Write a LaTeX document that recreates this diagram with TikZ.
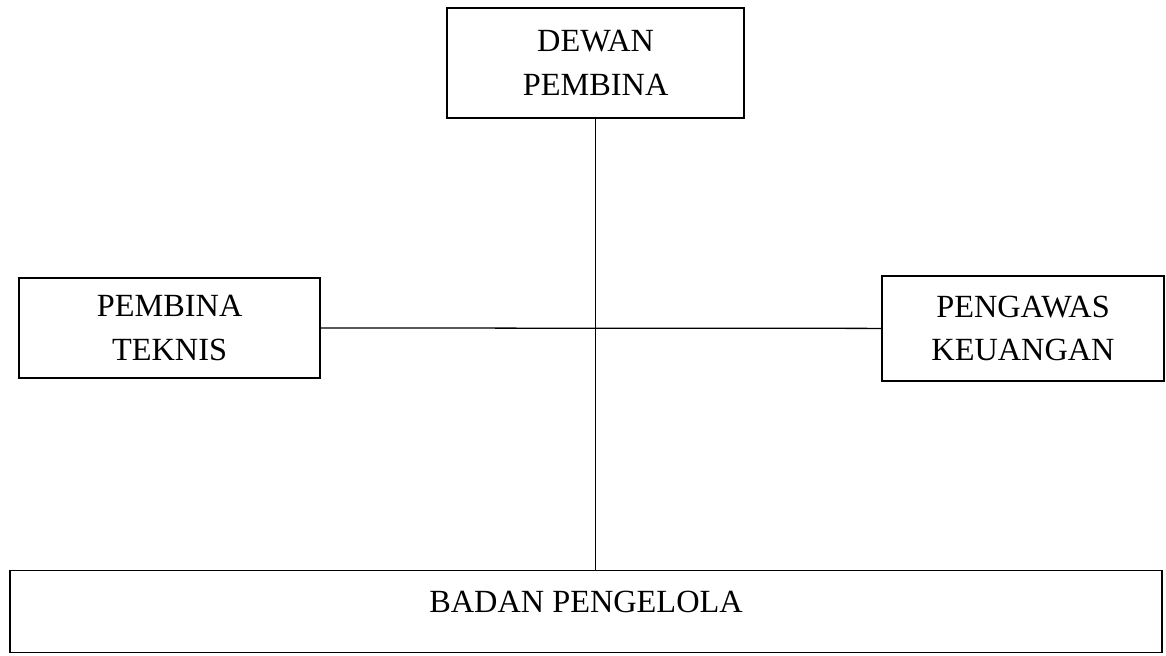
\documentclass[tikz,border=0pt]{standalone}
\usepackage{fontspec}
\setmainfont{Liberation Serif}

\begin{document}
\begin{tikzpicture}[
    unit/.style={draw, line width=0.9pt, align=center, inner sep=0pt,
        font=\fontsize{23}{31}\selectfont},
    link/.style={line width=0.9pt}
]
\useasboundingbox (0,0) rectangle (29.15,16.4);
    \node[unit, minimum width=7.425cm, minimum height=2.75cm] (dewan) at (14.89, 14.825) {DEWAN\\PEMBINA};
    \node[unit, minimum width=7.525cm, minimum height=2.5cm] (teknis) at (4.24, 8.2) {PEMBINA\\TEKNIS};
    \node[unit, minimum width=7.05cm, minimum height=2.625cm] (keuangan) at (25.575, 8.19) {PENGAWAS\\KEUANGAN};
    \node[unit, anchor=north, minimum width=28.8cm, text height=1.05cm, text depth=1.0cm] (badan) at (14.65, 2.15) {BADAN PENGELOLA};

    \draw[link] (dewan.south) -- (dewan.south |- badan.north);
    \draw[link] (teknis.east) -- (keuangan.west);
\end{tikzpicture}
\end{document}
